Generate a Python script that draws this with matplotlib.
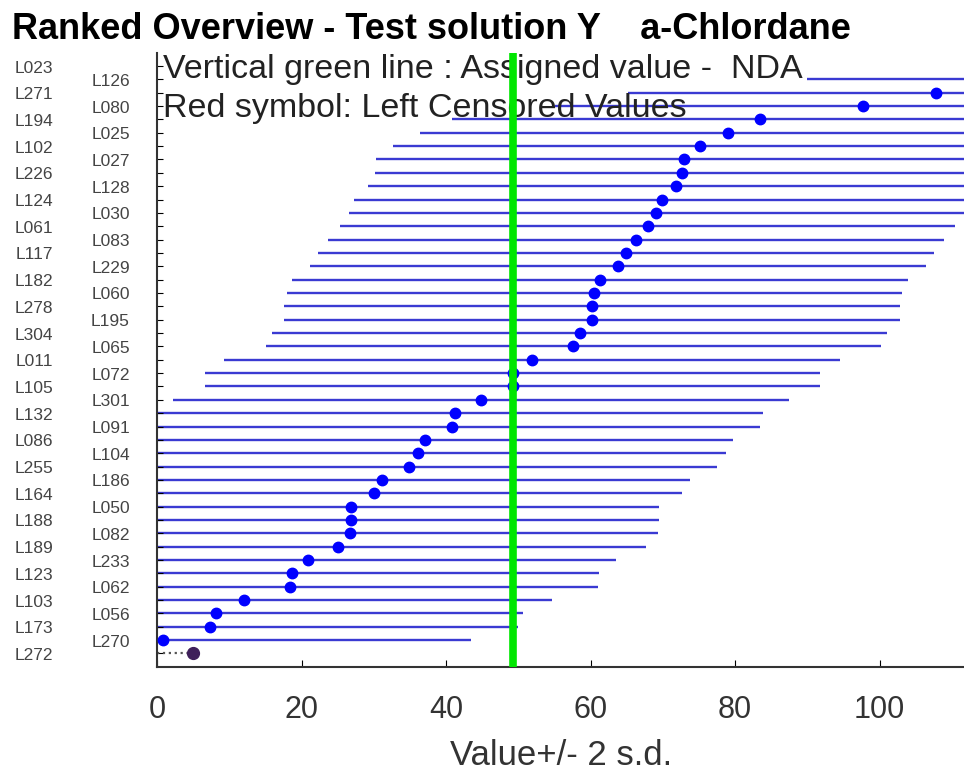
import numpy as np
import matplotlib
matplotlib.use("Agg")
import matplotlib.pyplot as plt
import matplotlib.transforms as mtransforms

plt.rcParams['font.family'] = ['Liberation Sans', 'DejaVu Sans']

# ranked labs, top to bottom
labs = ['L023', 'L126', 'L271', 'L080', 'L194', 'L025', 'L102', 'L027', 'L226',
        'L128', 'L124', 'L030', 'L061', 'L083', 'L117', 'L229', 'L182', 'L060',
        'L278', 'L195', 'L304', 'L065', 'L011', 'L072', 'L105', 'L301', 'L132',
        'L091', 'L086', 'L104', 'L255', 'L186', 'L164', 'L050', 'L188', 'L082',
        'L189', 'L233', 'L123', 'L062', 'L103', 'L056', 'L173', 'L270', 'L272']
values = [160.0, 132.6, 107.8, 97.7, 83.4, 79.0, 75.2, 72.9, 72.7,
          71.8, 69.9, 69.1, 67.9, 66.3, 64.9, 63.8, 61.3, 60.5,
          60.2, 60.2, 58.5, 57.6, 51.9, 49.2, 49.2, 44.8, 41.2,
          40.8, 37.1, 36.1, 34.9, 31.1, 30.0, 26.8, 26.8, 26.7,
          25.0, 20.9, 18.6, 18.4, 12.0, 8.1, 7.3, 0.8, 5.0]
censored = ['L272']
two_sd = 42.6          # 2 s.d. half width
assigned = 49.3        # NDA assigned value
xticks = [0, 20, 40, 60, 80, 100]

n = len(labs)
ypos = np.arange(n, 0, -1)

fig = plt.figure(figsize=(9.64, 7.71), dpi=100)
ax = fig.add_axes([0.1632, 0.1351, 0.8368, 0.7966])

for lab, v, y in zip(labs, values, ypos):
    if lab in censored:
        ax.plot([0, v], [y, y], ':', color='#555555', lw=1.6, zorder=2)
        ax.plot(v, y, 'o', color='#3f1f5a', ms=8.5, zorder=3)
    else:
        ax.hlines(y, v - two_sd, v + two_sd, color='#3a3ad2', lw=1.7, zorder=1)
        ax.plot(v, y, 'o', color='#0000ff', ms=7.5, zorder=3)

ax.axvline(assigned, color='#00e600', lw=5.5, zorder=5)

ax.set_xlim(0, 111.7)
ax.set_ylim(0, 46)
ax.set_xticks(xticks)
ax.set_yticks(ypos)
ax.set_yticklabels([])
ax.tick_params(axis='x', direction='in', length=5, labelsize=22,
               labelcolor='#333333', pad=20)
ax.tick_params(axis='y', direction='in', length=4)
for s in ['top', 'right']:
    ax.spines[s].set_visible(False)
for s in ['left', 'bottom']:
    ax.spines[s].set_color('#333333')
    ax.spines[s].set_linewidth(1.5)

ax.set_xlabel('Value+/- 2 s.d.', fontsize=25, color='#333333', labelpad=10)

# lab codes in two staggered columns
trans = mtransforms.blended_transform_factory(fig.transFigure, ax.transData)
for i, (lab, y) in enumerate(zip(labs, ypos)):
    xl = 53 / 964 if i % 2 == 0 else 130 / 964
    ax.text(xl, y - 0.15, lab, transform=trans, ha='right', va='center',
            fontsize=12.5, color='#444444', clip_on=False)

ax.text(0.8, 44.1, 'Vertical green line : Assigned value -  NDA',
        fontsize=24.5, color='#222222', va='baseline')
ax.text(0.8, 41.2, 'Red symbol: Left Censored Values',
        fontsize=24.5, color='#222222', va='baseline')

fig.text(12 / 964, 1 - 39.3 / 771,
         'Ranked Overview - Test solution Y    a-Chlordane',
         fontsize=26, fontweight='bold', va='baseline')

fig.savefig('out.png', dpi=100)
